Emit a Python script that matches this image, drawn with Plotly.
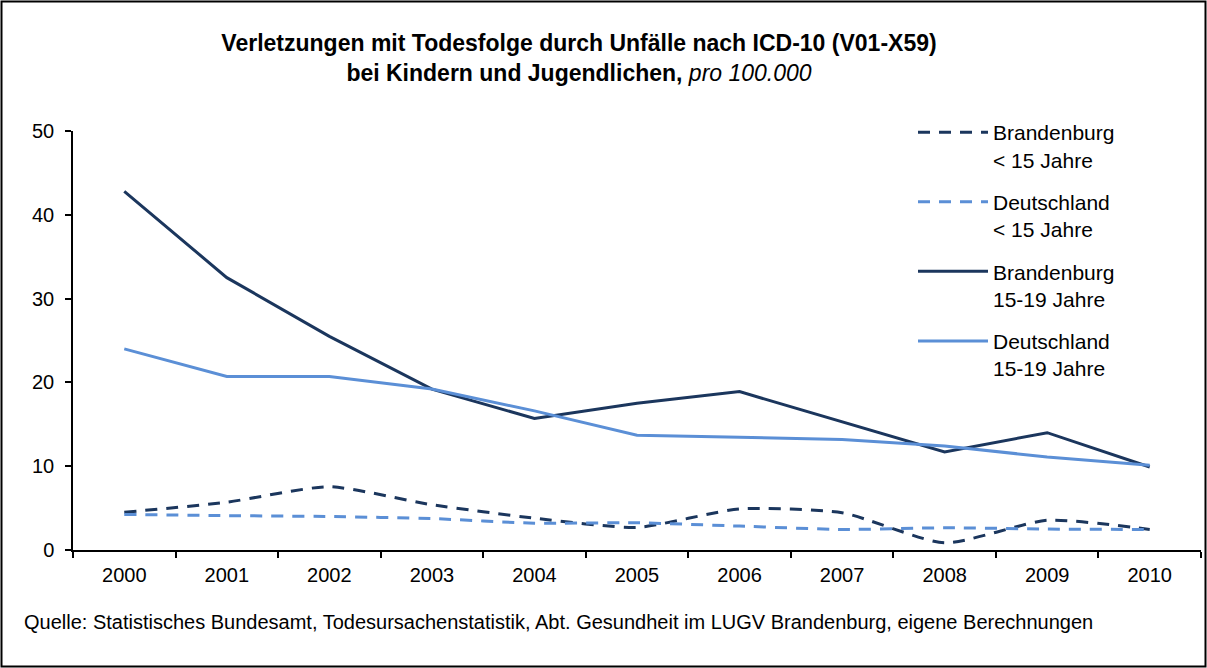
import plotly.graph_objects as go

years = ["2000", "2001", "2002", "2003", "2004", "2005", "2006", "2007", "2008", "2009", "2010"]
bb_u15 = [4.5, 5.7, 7.55, 5.4, 3.8, 2.7, 4.9, 4.45, 0.85, 3.55, 2.45]
de_u15 = [4.25, 4.1, 4.0, 3.75, 3.2, 3.25, 2.85, 2.45, 2.65, 2.5, 2.45]
bb_15_19 = [42.8, 32.5, 25.5, 19.2, 15.7, 17.5, 18.9, 15.3, 11.7, 14.0, 9.9]
de_15_19 = [24.0, 20.7, 20.7, 19.2, 16.6, 13.7, 13.45, 13.2, 12.4, 11.1, 10.1]
y_ticks = [0, 10, 20, 30, 40, 50]

names = ["Brandenburg<br>&lt; 15 Jahre", "Deutschland<br>&lt; 15 Jahre",
         "Brandenburg<br>15-19 Jahre", "Deutschland<br>15-19 Jahre"]

DARK = "#1B365D"
LIGHT = "#5B8FD6"
FONT = "Liberation Sans, Arial, sans-serif"

W, H = 1207, 668
L, R, T, B = 73, 6, 131, 118
pw = W - L - R
ph = H - T - B

fig = go.Figure()
series = [
    (bb_u15, names[0], DARK, "12px,9px", "spline"),
    (de_u15, names[1], LIGHT, "12px,9px", "spline"),
    (bb_15_19, names[2], DARK, "solid", "linear"),
    (de_15_19, names[3], LIGHT, "solid", "linear"),
]
for i, (vals, nm, col, dash, shape) in enumerate(series):
    fig.add_trace(go.Scatter(
        x=years, y=vals, name=nm, mode="lines",
        line=dict(color=col, width=3, dash=dash, shape=shape, smoothing=0.6),
        legendgroup=f"g{i}",
    ))

def px_x(p):
    return (p - L) / pw

def px_y(p):
    return (H - B - p) / ph

fig.update_layout(
    width=W, height=H,
    margin=dict(l=L, r=R, t=T, b=B),
    paper_bgcolor="white", plot_bgcolor="white",
    font=dict(family=FONT, color="#000000", size=20),
    title=dict(
        text="<b>Verletzungen mit Todesfolge durch Unfälle nach ICD-10 (V01-X59)</b><br>"
             "<b>bei Kindern und Jugendlichen,</b> <i>pro 100.000</i>",
        x=579 / W, xanchor="center", xref="container",
        y=1 - 51 / H, yanchor="top", yref="container",
        font=dict(family=FONT, size=23, color="#000000"),
    ),
    xaxis=dict(
        type="category", range=[-0.5, 10.5],
        showline=True, linecolor="#000000", linewidth=1.5,
        ticks="outside", tickson="boundaries", ticklen=6, tickwidth=1.5, tickcolor="#000000",
        showgrid=False, zeroline=False,
        tickfont=dict(size=20, family=FONT),
        ticklabelstandoff=6,
    ),
    yaxis=dict(
        range=[0, 50], tickvals=y_ticks,
        showline=True, linecolor="#000000", linewidth=1.5,
        ticks="outside", ticklen=6, tickwidth=1.5, tickcolor="#000000",
        showgrid=False, zeroline=False,
        tickfont=dict(size=20, family=FONT),
        ticklabelstandoff=7,
    ),
    legend=dict(
        x=px_x(913), y=px_y(112), xanchor="left", yanchor="top",
        xref="paper", yref="paper",
        bgcolor="rgba(0,0,0,0)", borderwidth=0,
        font=dict(size=21, family=FONT, color="#000000"),
        tracegroupgap=12, itemwidth=70, valign="top",
    ),
    showlegend=True,
)

fig.add_annotation(
    text="Quelle: Statistisches Bundesamt, Todesursachenstatistik, Abt. Gesundheit im LUGV Brandenburg, eigene Berechnungen",
    xref="paper", yref="paper", x=px_x(22), y=px_y(622),
    xanchor="left", yanchor="middle", showarrow=False,
    font=dict(size=20, family=FONT, color="#000000"),
)

fig.add_shape(
    type="rect", xref="paper", yref="paper",
    x0=px_x(1.5), x1=px_x(1205.5), y0=px_y(666.5), y1=px_y(1.5),
    line=dict(color="#000000", width=2), fillcolor="rgba(0,0,0,0)", layer="below",
)

fig.write_html(
    "out.html",
    config={"displayModeBar": False},
    post_script="document.body.style.margin='0';document.body.style.overflow='hidden';",
)
